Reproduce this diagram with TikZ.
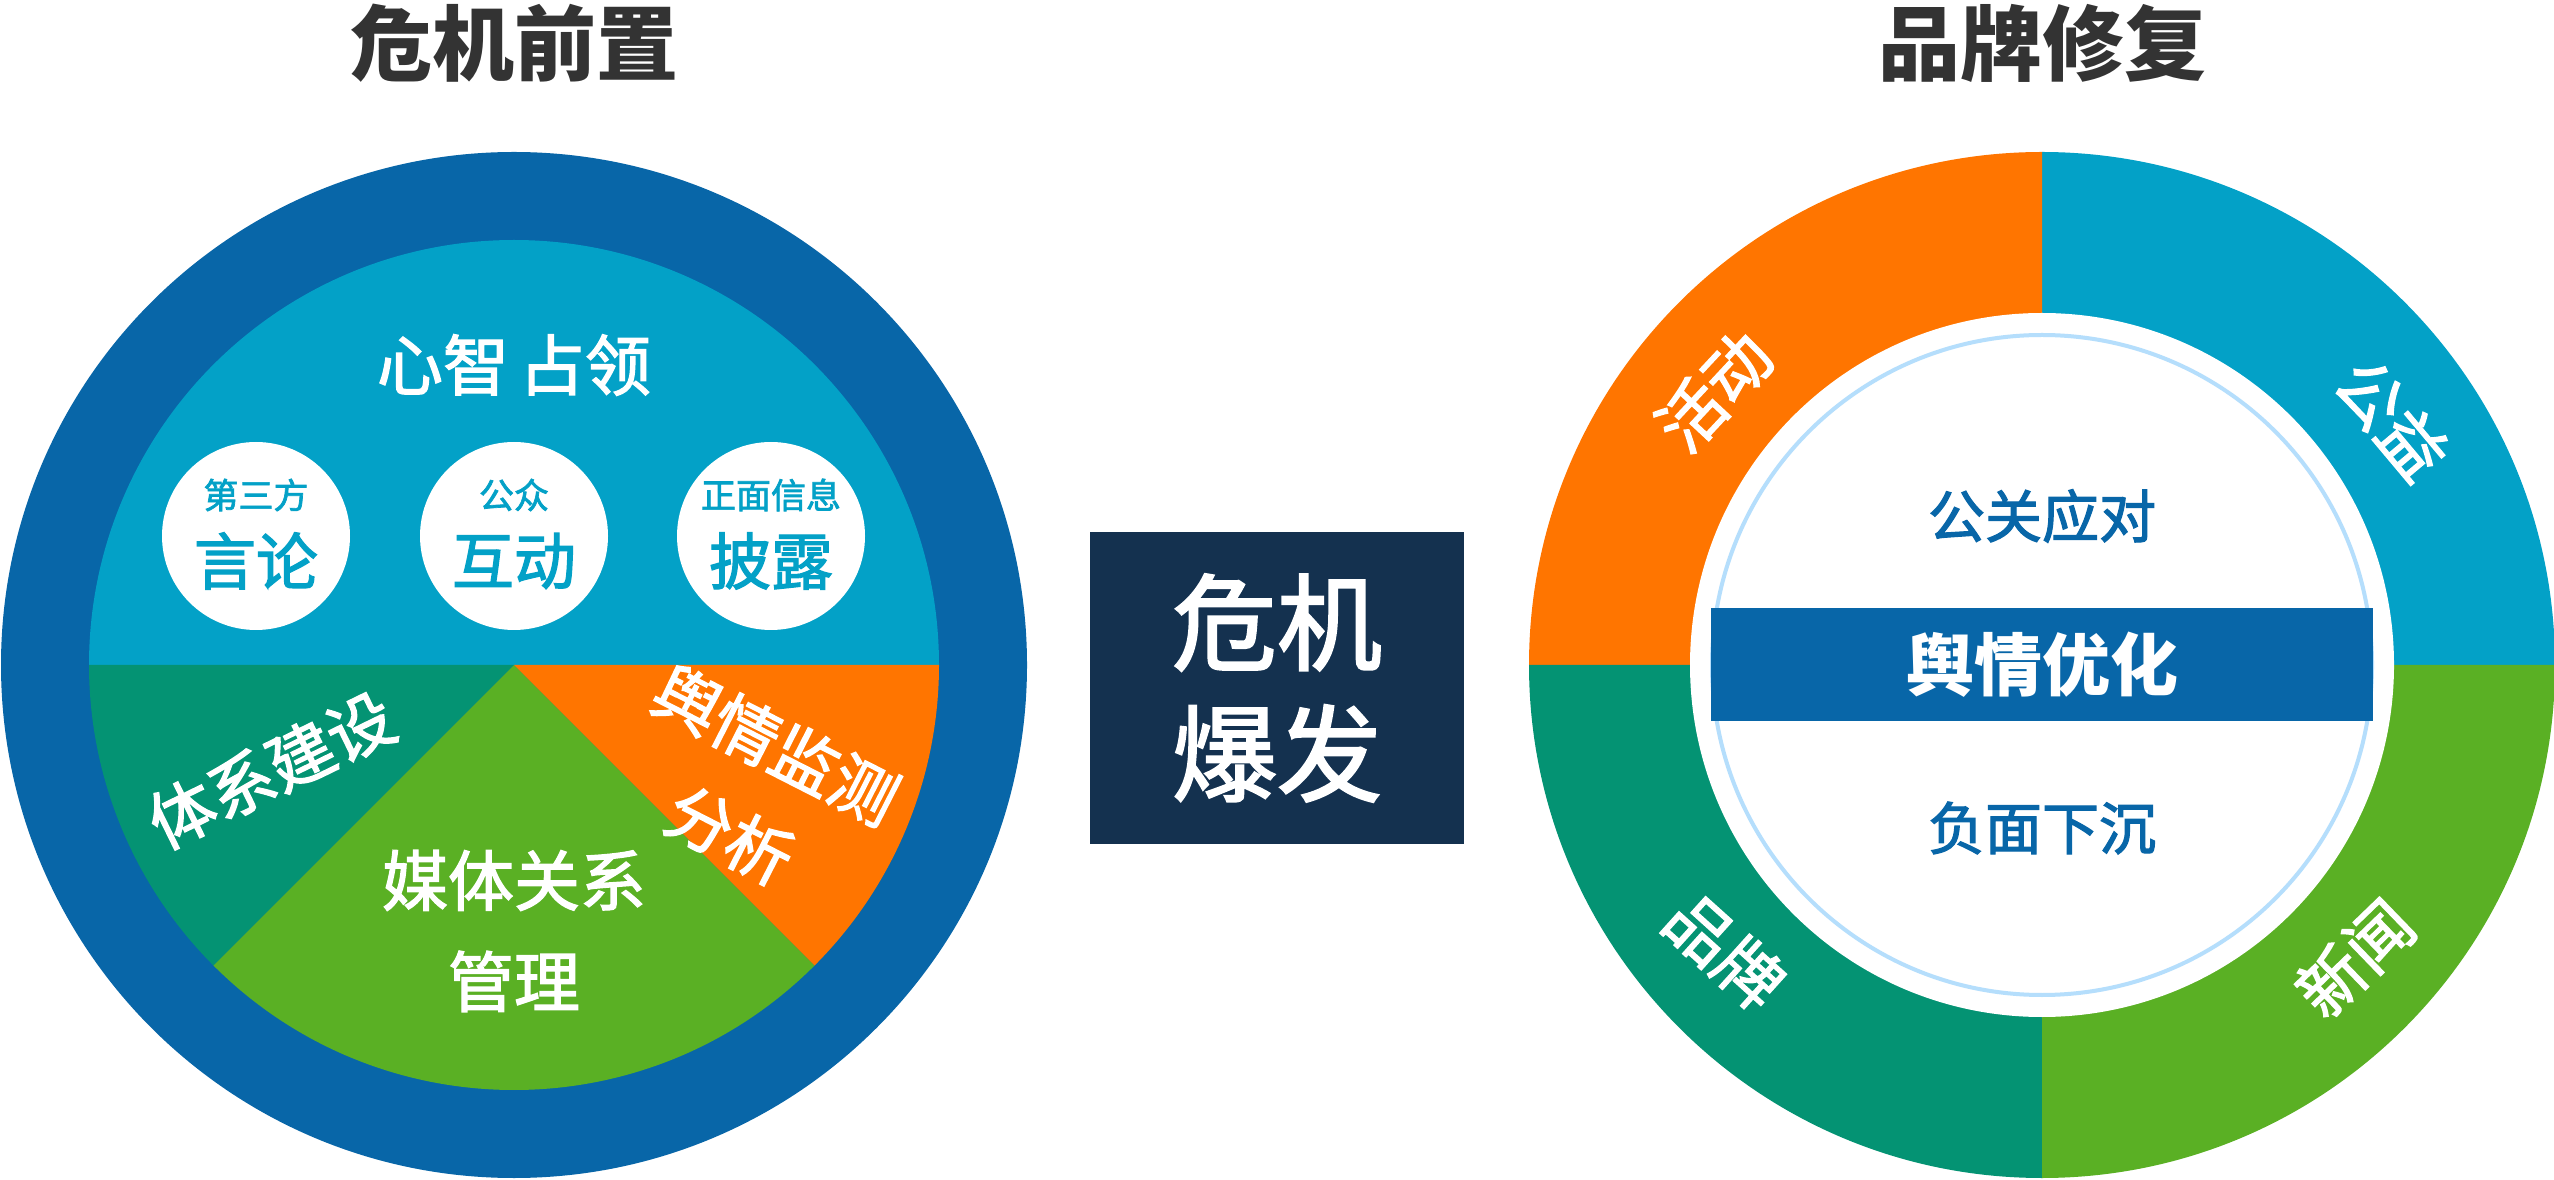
\documentclass[tikz,border=0pt]{standalone}
\usepackage{fontspec}
\setmainfont{Noto Sans CJK SC}
\newfontfamily\medfont[FakeBold=2]{Noto Sans CJK SC}
\usepackage{tikz}
\usetikzlibrary{calc}
\definecolor{ringblue}{HTML}{0866A8}
\definecolor{skyblue}{HTML}{03A1C7}
\definecolor{seagreen}{HTML}{049373}
\definecolor{grassgreen}{HTML}{5AB024}
\definecolor{flame}{HTML}{FF7500}
\definecolor{navybox}{HTML}{14314F}
\definecolor{paleblue}{HTML}{B5DEFC}
\definecolor{titlegray}{HTML}{333333}
\def\piepart[#1](#2)(#3:#4:#5){\fill[#1] (#2) -- ($(#2)+(#3:#5)$) arc (#3:#4:#5) -- cycle;}
\tikzset{
	headline/.style={text=titlegray, inner sep=0pt, font=\fontsize{82pt}{98pt}\selectfont\bfseries},
	bigtext/.style={text=white, inner sep=0pt, align=center, font=\medfont\fontsize{66pt}{101pt}\selectfont},
	smalltext/.style={text=skyblue, inner sep=0pt, font=\medfont\fontsize{35pt}{42pt}\selectfont},
	midtext/.style={text=skyblue, inner sep=0pt, font=\medfont\fontsize{62pt}{74pt}\selectfont},
	innertext/.style={text=ringblue, inner sep=0pt, font=\medfont\fontsize{57pt}{68pt}\selectfont},
	bar/.style={fill=ringblue, text=white, inner sep=0pt, minimum width=662pt, minimum height=113pt, font=\fontsize{68pt}{80pt}\selectfont\bfseries},
	crisisbox/.style={fill=navybox, text=white, inner sep=0pt, align=center, minimum width=374pt, minimum height=312pt, font=\medfont\fontsize{105pt}{131pt}\selectfont}
}

\begin{document}
\begin{tikzpicture}[x=1pt, y=1pt]
			%%%%% START %%%%%
			\useasboundingbox (0,0) rectangle (2554,1179);
			
			\coordinate (L) at (514, 514);
			\fill[ringblue] (L) circle (513);
			\piepart[skyblue](L)(0:180:425)
			\piepart[seagreen](L)(180:225:425)
			\piepart[grassgreen](L)(225:315:425)
			\piepart[flame](L)(315:360:425)
			
			\fill[white] (256, 643) circle (94);
			\fill[white] (514, 643) circle (94);
			\fill[white] (771, 643) circle (94);
			
			\node[headline] (lefttitle) at (514, 1136) {危机前置};
			\node[bigtext] (mind) at (514, 814) {心智\hspace{10pt}占领};
			
			\node[smalltext] (third) at (256, 684) {第三方};
			\node[midtext] (speech) at (256, 618) {言论};
			\node[smalltext] (public) at (514, 684) {公众};
			\node[midtext] (interact) at (514, 618) {互动};
			\node[smalltext] (positive) at (771, 684) {正面信息};
			\node[midtext] (disclose) at (771, 618) {披露};
			
			\node[bigtext, rotate=26] (system) at (271, 409) {体系建设};
			\node[bigtext] (media) at (514, 248) {媒体关系\\管理};
			\node[bigtext, rotate=-27] (monitor) at (753, 389) {舆情监测\\分析};
			
			\node[crisisbox] (burst) at (1277, 491) {危机\\爆发};
			
			\coordinate (R) at (2042, 514);
			\piepart[skyblue](R)(0:90:513)
			\piepart[flame](R)(90:180:513)
			\piepart[seagreen](R)(180:270:513)
			\piepart[grassgreen](R)(270:360:513)
			\fill[white] (R) circle (352);
			\draw[line width=4pt, color=paleblue] (R) circle (330);
			
			\node[headline] (righttitle) at (2042, 1136) {品牌修复};
			\node[bar] (optimize) at (R) {舆情优化};
			\node[innertext] (relations) at (2042, 663) {公关应对};
			\node[innertext] (sink) at (2042, 351) {负面下沉};
			
			\node[bigtext, rotate=47] (event) at (1714, 788) {活动};
			\node[bigtext, rotate=-50] (charity) at (2392, 760) {公益};
			\node[bigtext, rotate=-42] (brand) at (1725, 228) {品牌};
			\node[bigtext, rotate=44] (news) at (2355, 221) {新闻};
			%%%%% END %%%%%
\end{tikzpicture}
\end{document}
